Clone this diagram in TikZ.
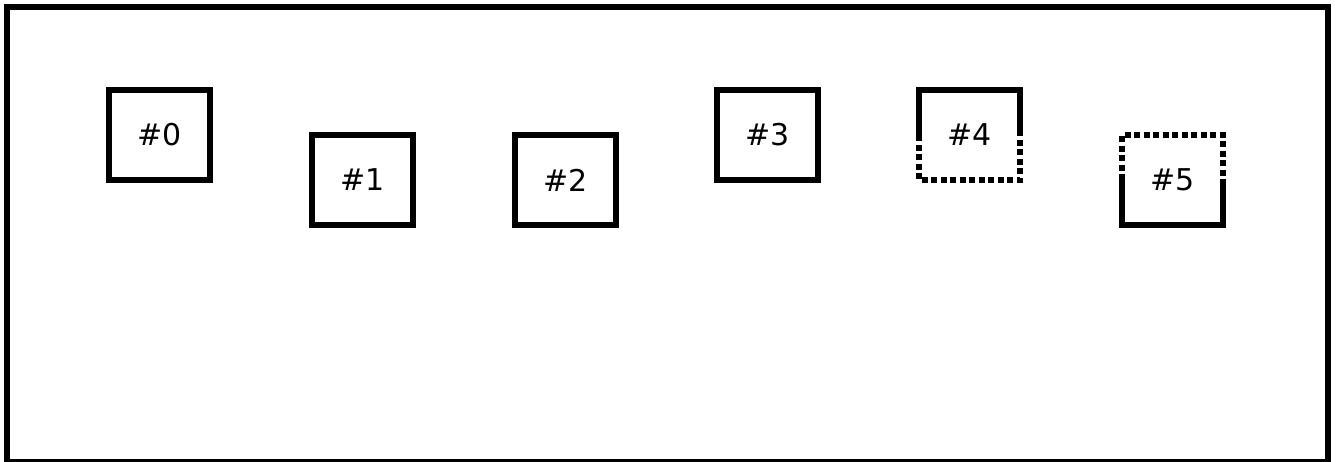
\documentclass[tikz,border=0pt]{standalone}
\usepackage{fontspec}
\setmainfont{DejaVu Sans}
\usetikzlibrary{positioning}

\begin{document}
\begin{tikzpicture}[
  x=1pt, y=-1pt,
  font=\fontsize{30}{36}\selectfont,
  frame/.style={draw=black,line width=6pt},
  slot/.style={outer sep=0pt,inner sep=0pt,
               minimum width=101pt,minimum height=90pt},
  box/.style={slot,draw=black,line width=6pt},
  solidside/.style={draw=black,line width=6pt},
  dotside/.style={draw=black,line width=6pt,dash pattern=on 6pt off 3.5pt}
]
\useasboundingbox (0,0) rectangle (1336,461);
\draw[frame] (7,7) rectangle (1328,462);

\node[box] (b0) at (159.5,135) {\#0};
\node[box,right=102pt of b0,yshift=-45pt] (b1) {\#1};
\node[box,right=102pt of b1] (b2) {\#2};
\node[box,right=101pt of b2,yshift=45pt] (b3) {\#3};
\node[slot,right=101pt of b3] (b4) {\#4};
\node[slot,right=102pt of b4,yshift=-45pt] (b5) {\#5};

\draw[solidside] (b4.west) |- (b4.north) -| (b4.east);
\draw[dotside] (b4.west) |- (b4.south) -| (b4.east);
\draw[dotside] (b5.west) |- (b5.north) -| (b5.east);
\draw[solidside] (b5.west) |- (b5.south) -| (b5.east);
\end{tikzpicture}
\end{document}
